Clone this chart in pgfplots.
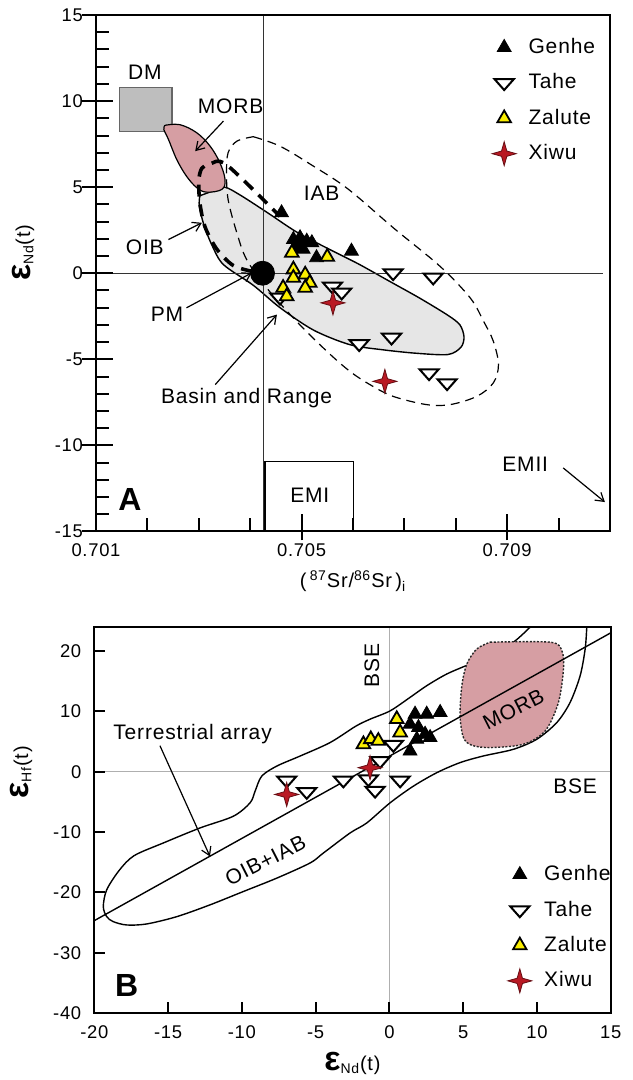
\documentclass[border=0pt]{standalone}
\usepackage{fontspec}
\setmainfont{Liberation Sans}[LetterSpace=4]
\usepackage{pgfplots}
\pgfplotsset{compat=1.18}
\usetikzlibrary{arrows.meta}

\definecolor{morbpink}{RGB}{214,158,163}
\definecolor{dmgray}{RGB}{190,190,190}
\definecolor{brgray}{RGB}{230,230,230}
\definecolor{zalyellow}{RGB}{250,238,0}
\definecolor{xiwured}{RGB}{185,25,35}
\definecolor{linegray}{RGB}{175,175,175}

\pgfdeclareplotmark{star4}{%
 \pgfpathmoveto{\pgfqpoint{0pt}{\pgfplotmarksize}}%
 \pgfpathlineto{\pgfqpoint{0.22\pgfplotmarksize}{0.22\pgfplotmarksize}}%
 \pgfpathlineto{\pgfqpoint{\pgfplotmarksize}{0pt}}%
 \pgfpathlineto{\pgfqpoint{0.22\pgfplotmarksize}{-0.22\pgfplotmarksize}}%
 \pgfpathlineto{\pgfqpoint{0pt}{-\pgfplotmarksize}}%
 \pgfpathlineto{\pgfqpoint{-0.22\pgfplotmarksize}{-0.22\pgfplotmarksize}}%
 \pgfpathlineto{\pgfqpoint{-\pgfplotmarksize}{0pt}}%
 \pgfpathlineto{\pgfqpoint{-0.22\pgfplotmarksize}{0.22\pgfplotmarksize}}%
 \pgfpathclose
 \pgfusepathqfillstroke}

\pgfplotsset{
 genhe/.style={only marks, mark=triangle*, mark size=4pt, mark options={fill=black, draw=black}},
 tahe/.style={only marks, mark=triangle*, mark size=4.8pt, mark options={fill=white, draw=black, line width=1pt, rotate=180, xscale=1.15, yscale=0.75}},
 zalute/.style={only marks, mark=triangle*, mark size=3.9pt, mark options={fill=zalyellow, draw=black, line width=0.9pt}},
 xiwu/.style={only marks, mark=star4, mark size=6pt, mark options={fill=xiwured, draw=xiwured!55!black, line width=0.4pt}},
 myaxis/.style={scale only axis, axis on top, axis line style={line width=1pt},
   every tick/.style={black, line width=1pt}, tick align=inside,
   xtick pos=left, ytick pos=left,
   tick label style={font=\fontsize{9.2}{11}\selectfont},
   xticklabel style={yshift=-2.5pt}, yticklabel style={xshift=-3pt},
   label style={font=\fontsize{10.5}{12}\selectfont},
   legend cell align=left,
   legend image code/.code={\path (0pt,0pt) (15pt,0pt); \draw[##1] plot coordinates {(5pt,0pt)};},
 },
}
\tikzset{arr/.style={-{Straight Barb[length=4pt,width=5pt]}, line width=0.6pt},
 lbl/.style={font=\fontsize{10.5}{12}\selectfont}}

\begin{document}
\begin{tikzpicture}
\path[use as bounding box] (0,0) rectangle (316pt,540pt);

% ================= Panel A =================
\begin{axis}[myaxis,
 at={(48pt,274.25pt)}, anchor=south west, width=257pt, height=258.25pt,
 xmin=0.701, xmax=0.711, ymin=-15, ymax=15,
 xtick={0.701,0.705,0.709}, xticklabels={0.701,0.705,0.709},
 minor xtick={0.702,0.703,0.704,0.706,0.707,0.708,0.710},
 ytick={-15,-10,...,15}, yticklabels={-15,-10,-5,0,5,10,15},
 minor ytick={-14,-13,-12,-11,-9,-8,-7,-6,-4,-3,-2,-1,1,2,3,4,6,7,8,9,11,12,13,14},
 major tick length=8.5pt, minor tick length=6.5pt,
 extra y ticks={-15,-10,-5,0,5,10,15}, extra y tick labels={},
 extra y tick style={tick align=outside, major tick length=7pt},
 extra x ticks={0.705,0.709}, extra x tick labels={},
 extra x tick style={tick align=outside, major tick length=4.5pt},
 xlabel={(\,\textsuperscript{87}Sr/\textsuperscript{86}Sr\,)\textsubscript{i}},
 ylabel={{\fontsize{17}{17}\selectfont\bfseries ε}\textsubscript{Nd}(t)},
 every axis x label/.style={at={(axis description cs:0.5,0)}, anchor=center, yshift=-25pt},
 every axis y label/.style={at={(axis description cs:-0.142,0.54)}, anchor=center, rotate=90},
 legend style={draw=none, fill=none, at={(axis cs:0.7087,13.9)}, anchor=north west,
   font=\fontsize{10.5}{12}\selectfont, row sep=4.6pt, inner sep=0pt},
]
% Basin and Range / OIB field
\addplot[fill=brgray, draw=black, line width=0.7pt, smooth, tension=0.5, forget plot] coordinates {
 (0.70302,4.5) (0.70325,4.75) (0.70350,5.0) (0.70380,4.55) (0.70432,3.55) (0.70490,2.4)
 (0.70550,1.45) (0.70610,0.55) (0.70670,-0.45) (0.70730,-1.45) (0.70785,-2.45) (0.70808,-3.0)
 (0.70816,-3.7) (0.70810,-4.3) (0.70785,-4.72) (0.70724,-4.65) (0.70659,-4.45) (0.70594,-4.15)
 (0.70523,-3.3) (0.70458,-2.0) (0.70406,-0.7) (0.70348,0.5) (0.70326,1.6) (0.70310,2.8)
 (0.70301,3.9) (0.70302,4.5)};
% DM
\addplot[fill=dmgray, draw=black!60, line width=0.6pt, forget plot] coordinates {
 (0.70145,8.22) (0.70248,8.22) (0.70248,10.78) (0.70145,10.78) (0.70145,8.22)};
% MORB
\addplot[fill=morbpink, draw=black, line width=0.6pt, smooth, tension=0.6, forget plot] coordinates {
 (0.70234,8.59) (0.70263,8.63) (0.70296,8.16) (0.70322,7.38) (0.70341,6.42) (0.70351,5.45)
 (0.70345,4.87) (0.70315,4.71) (0.70296,4.97) (0.70276,5.64) (0.70257,6.61) (0.70241,7.77)
 (0.70232,8.35) (0.70234,8.59)};
% EMI
\addplot[fill=white, draw=black, line width=0.7pt, forget plot] coordinates {
 (0.70429,-15) (0.70429,-10.93) (0.70601,-10.93) (0.70601,-15)};
% reference lines
\addplot[black!80, line width=0.5pt, forget plot] coordinates {(0.70425,-15) (0.70425,15)};
\addplot[black!80, line width=0.5pt, forget plot] coordinates {(0.701,0) (0.71087,0)};
% IAB field
\addplot[black, line width=0.6pt, dash pattern=on 4.5pt off 3pt, smooth, tension=0.55, forget plot] coordinates {
 (0.70406,7.93) (0.70458,7.38) (0.70523,6.22) (0.70590,4.9) (0.70680,2.6) (0.70769,0.41)
 (0.70828,-1.43) (0.70854,-2.79) (0.70873,-3.95) (0.70883,-5.31) (0.70873,-6.37) (0.70841,-7.15)
 (0.70789,-7.63) (0.70743,-7.63) (0.70678,-7.15) (0.70633,-6.47) (0.70594,-5.7) (0.70549,-4.53)
 (0.7049,-2.79) (0.70432,-0.85) (0.70393,0.8) (0.70374,2.35) (0.70357,4.28) (0.70354,5.84)
 (0.70357,7.0) (0.70374,7.67) (0.70406,7.93)};
% OIB thick dashed
\addplot[black, line width=1.8pt, dash pattern=on 6pt off 4pt, smooth, tension=0.5, forget plot] coordinates {
 (0.70405,0.1) (0.70367,0.45) (0.70335,1.4) (0.70312,2.7) (0.70302,4.1) (0.70300,5.4)
 (0.70306,6.1) (0.70322,6.35) (0.70354,6.3) (0.70458,3.3)};
% PM
\addplot[only marks, mark=*, mark size=6pt, black, forget plot] coordinates {(0.70424,0)};
% data
\addplot[genhe] coordinates {(0.70461,3.51) (0.70484,1.96) (0.70497,2.06) (0.7051,1.86) (0.70494,1.67)
 (0.7052,1.77) (0.70529,0.9) (0.70597,1.28) (0.70488,1.5) (0.70503,1.4)};
\addlegendentry{Genhe}
\addplot[tahe] coordinates {(0.70678,0.02) (0.70756,-0.23) (0.70675,-3.72) (0.70612,-4.1) (0.70748,-5.79)
 (0.70783,-6.37) (0.70560,-0.75) (0.70578,-1.1) (0.70458,-1.4)};
\addlegendentry{Tahe}
\addplot[zalute] coordinates {(0.70481,1.19) (0.7055,0.95) (0.70484,0.22) (0.70507,-0.08) (0.70484,-0.27)
 (0.70516,-0.56) (0.70464,-0.85) (0.70507,-0.85) (0.70471,-1.34)};
\addlegendentry{Zalute}
\addplot[xiwu] coordinates {(0.70561,-1.72) (0.70662,-6.28)};
\addlegendentry{Xiwu}
% annotations
\node[lbl] at (axis cs:0.70195,11.65) {DM};
\node[lbl] at (axis cs:0.70362,9.71) {MORB};
\draw[arr] (axis cs:0.70348,8.84) -- (axis cs:0.70293,7.09);
\node[lbl] at (axis cs:0.70195,1.48) {OIB};
\draw[arr] (axis cs:0.70241,1.96) -- (axis cs:0.70306,2.93);
\node[lbl] at (axis cs:0.70539,4.67) {IAB};
\node[lbl] at (axis cs:0.70238,-2.4) {PM};
\draw[arr] (axis cs:0.70276,-2.01) -- (axis cs:0.70403,0.02);
\node[lbl] at (axis cs:0.70393,-7.24) {Basin and Range};
\draw[arr] (axis cs:0.70332,-6.47) -- (axis cs:0.70452,-2.4);
\node[lbl] at (axis cs:0.70516,-12.87) {EMI};
\node[lbl] at (axis cs:0.70935,-11.12) {EMII};
\draw[arr] (axis cs:0.71009,-11.31) -- (axis cs:0.7109,-13.29);
\node[font=\fontsize{16}{18}\selectfont\bfseries] at (axis cs:0.70166,-13.16) {A};
\end{axis}

% ================= Panel B =================
\begin{axis}[myaxis,
 at={(47.15pt,33.35pt)}, anchor=south west, width=258.2pt, height=193.3pt,
 xmin=-20, xmax=15, ymin=-40, ymax=24,
 xtick={-20,-15,...,15}, xticklabels={-20,-15,-10,-5,0,5,10,15},
 ytick={-40,-30,...,20}, yticklabels={-40,-30,-20,-10,0,10,20},
 major tick length=5.5pt,
 xlabel={{\fontsize{17}{17}\selectfont\bfseries ε}\textsubscript{Nd}(t)},
 ylabel={{\fontsize{17}{17}\selectfont\bfseries ε}\textsubscript{Hf}(t)},
 every axis x label/.style={at={(axis description cs:0.5,0)}, anchor=center, yshift=-25pt},
 every axis y label/.style={at={(axis description cs:-0.142,0.624)}, anchor=center, rotate=90},
 legend style={draw=none, fill=none, at={(axis cs:8.0,-14.8)}, anchor=north west,
   font=\fontsize{10.5}{12}\selectfont, row sep=4.6pt, inner sep=0pt},
]
\addplot[linegray, line width=0.6pt, forget plot] coordinates {(0,-40) (0,24)};
\addplot[linegray, line width=0.6pt, forget plot] coordinates {(-20,0) (15,0)};
% OIB+IAB envelope
\addplot[black, line width=0.7pt, smooth, tension=0.5, forget plot] coordinates {
 (9.9,25) (9.54,23.93) (8.41,21.44) (7.05,19.49) (5.47,17.83) (3.89,16.17) (2.53,14.23)
 (1.4,12.3) (0.05,10.07) (-1.31,8.69) (-2.3,7.5) (-4.02,4.82) (-6.05,2.59) (-7.63,0.93)
 (-8.65,-0.73) (-9.1,-3.22) (-9.44,-5.15) (-10.58,-7.38) (-12.83,-9.31) (-15.32,-11.8)
 (-17.3,-13.9) (-18.3,-16.3) (-19.16,-19.56) (-19.39,-22.34) (-19.16,-24.0) (-18.71,-24.83)
 (-17.8,-25.38) (-16.45,-25.21) (-14.41,-24.0) (-12.16,-22.05) (-9.9,-19.84) (-7.63,-17.62)
 (-5.38,-15.12) (-4.47,-13.46) (-2.66,-10.14) (-1.53,-8.48) (0.05,-5.15) (1.63,-2.39)
 (3.21,-0.17) (4.79,1.5) (6.37,2.6) (8.41,3.71) (9.99,5.37) (11.35,8.14) (12.25,11.47)
 (12.93,15.89) (13.27,20.33) (13.38,23.93) (13.4,25)};
% MORB
\addplot[fill=morbpink, draw=black!85, line width=0.7pt, dash pattern=on 1pt off 0.8pt, smooth, tension=0.5, forget plot] coordinates {
 (6.83,21.44) (10.9,21.44) (11.69,20.04) (11.8,17.0) (11.46,11.47) (10.56,6.75) (9.08,4.54)
 (6.83,3.99) (5.59,4.37) (5.02,5.65) (4.79,9.24) (4.91,14.23) (5.25,17.83) (5.93,20.33) (6.83,21.44)};
% terrestrial array
\addplot[black, line width=0.7pt, forget plot] coordinates {(-20,-24.66) (15,22.98)};
% data
\addplot[genhe] coordinates {(1.74,9.52) (2.53,9.52) (3.44,9.8) (1.40,7.86) (1.97,7.31) (2.42,6.2)
 (1.40,3.42) (1.86,5.37) (2.76,5.65)};
\addlegendentry{Genhe}
\addplot[tahe] coordinates {(-6.96,-1.4) (-5.6,-3.3) (-3.12,-1.4) (-1.42,-1.2) (-0.97,-3.1) (0.73,-1.4)
 (-0.63,1.8) (0.27,4.5)};
\addlegendentry{Tahe}
\addplot[zalute] coordinates {(0.5,8.7) (0.73,6.48) (-1.76,4.54) (-1.26,5.37) (-0.75,5.09)};
\addlegendentry{Zalute}
\addplot[xiwu] coordinates {(-1.31,0.66) (-6.96,-3.77)};
\addlegendentry{Xiwu}
% annotations
\node[lbl] at (axis cs:-13.34,6.2) {Terrestrial array};
\draw[arr] (axis cs:-15.55,4.3) -- (axis cs:-12.16,-14.03);
\node[lbl, rotate=27, inner sep=0pt] at (axis cs:-8.4,-14.7) {OIB+IAB};
\node[lbl, rotate=27] at (axis cs:8.41,10.35) {MORB};
\node[lbl, rotate=90] at (axis cs:-1.19,17.55) {BSE};
\node[lbl] at (axis cs:12.59,-2.39) {BSE};
\node[font=\fontsize{16}{18}\selectfont\bfseries] at (axis cs:-17.8,-35.35) {B};
\end{axis}
\end{tikzpicture}
\end{document}
